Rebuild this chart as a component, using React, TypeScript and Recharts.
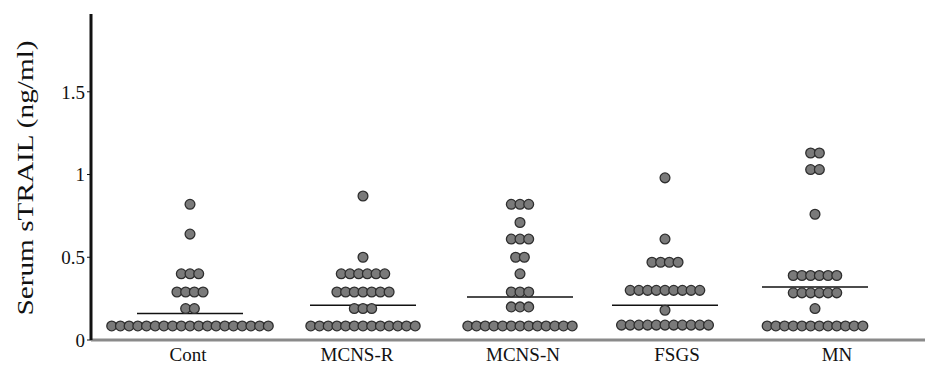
import React from 'react';
import { ReferenceLine, Scatter, ScatterChart, XAxis, YAxis } from 'recharts';

const groups = ['Cont', 'MCNS-R', 'MCNS-N', 'FSGS', 'MN'];
// column centre of each group and position of its label on the x scale
const groupCenters = [99, 272, 429, 574, 724];
const labelTicks = [97, 266, 432, 586, 746];

// serum sTRAIL (ng/ml), one value per patient
const cont = [
  0.085, 0.085, 0.085, 0.085, 0.085, 0.085, 0.085, 0.085, 0.085, 0.085,
  0.085, 0.085, 0.085, 0.085, 0.085, 0.085, 0.085, 0.085, 0.085,
  0.19, 0.19, 0.29, 0.29, 0.29, 0.29, 0.4, 0.4, 0.4, 0.64, 0.82,
];
const mcnsR = [
  0.085, 0.085, 0.085, 0.085, 0.085, 0.085, 0.085, 0.085, 0.085, 0.085,
  0.085, 0.085, 0.085, 0.19, 0.19, 0.19,
  0.29, 0.29, 0.29, 0.29, 0.29, 0.29, 0.29,
  0.4, 0.4, 0.4, 0.4, 0.4, 0.4, 0.5, 0.87,
];
const mcnsN = [
  0.085, 0.085, 0.085, 0.085, 0.085, 0.085, 0.085, 0.085, 0.085, 0.085,
  0.085, 0.085, 0.085, 0.2, 0.2, 0.2, 0.29, 0.29, 0.29, 0.4,
  0.5, 0.5, 0.61, 0.61, 0.61, 0.71, 0.82, 0.82, 0.82,
];
const fsgs = [
  0.09, 0.09, 0.09, 0.09, 0.09, 0.09, 0.09, 0.09, 0.09, 0.09, 0.09,
  0.18, 0.3, 0.3, 0.3, 0.3, 0.3, 0.3, 0.3, 0.3, 0.3,
  0.47, 0.47, 0.47, 0.47, 0.61, 0.98,
];
const mn = [
  0.085, 0.085, 0.085, 0.085, 0.085, 0.085, 0.085, 0.085, 0.085, 0.085,
  0.085, 0.085, 0.19, 0.285, 0.285, 0.285, 0.285, 0.285, 0.285,
  0.39, 0.39, 0.39, 0.39, 0.39, 0.39, 0.76, 1.03, 1.03, 1.13, 1.13,
];
const groupValues = [cont, mcnsR, mcnsN, fsgs, mn];
const means = [0.16, 0.21, 0.26, 0.21, 0.32];
const yTicks = [0, 0.5, 1, 1.5];

const DOT_STEP = 8.7;
const MEAN_HALF = 53;

// dot-plot layout: equal values share a row, spread evenly around the column centre
const layoutGroup = (values: number[], center: number) => {
  const rowSize = new Map<number, number>();
  values.forEach((v) => rowSize.set(v, (rowSize.get(v) ?? 0) + 1));
  const used = new Map<number, number>();
  return values.map((v) => {
    const n = rowSize.get(v)!;
    const i = used.get(v) ?? 0;
    used.set(v, i + 1);
    return { x: center + (i - (n - 1) / 2) * DOT_STEP, y: v };
  });
};

const points = groupValues.flatMap((vals, g) => layoutGroup(vals, groupCenters[g]));

const font = 'Liberation Serif';

const Dot = (props: any) => (
  <circle cx={props.cx} cy={props.cy} r={4.9} fill="#7a7a7a" stroke="#2e2e2e" strokeWidth={1.3} />
);

const XTick = (props: any) => (
  <g>
    <text
      x={props.x}
      y={props.y}
      dy="0.71em"
      textAnchor="middle"
      fontFamily={font}
      fontSize={19}
      fill="#111"
    >
      {groups[labelTicks.indexOf(props.payload.value)] ?? ''}
    </text>
  </g>
);

const YTick = (props: any) => (
  <g>
    <text
      x={props.x}
      y={props.y}
      dy="0.355em"
      textAnchor="end"
      fontFamily={font}
      fontSize={19}
      fill="#111"
    >
      {String(props.payload.value)}
    </text>
  </g>
);

const YLabel = () => (
  <text
    x={25}
    y={178}
    transform="rotate(-90 25 178)"
    textAnchor="middle"
    dominantBaseline="central"
    fontFamily={font}
    fontSize={24}
    fill="#111"
    textLength={275}
    lengthAdjust="spacingAndGlyphs"
  >
    Serum sTRAIL (ng/ml)
  </text>
);

export default function App() {
  return (
    <div style={{ position: 'absolute', left: 0, top: 0, background: '#fff', fontFamily: font }}>
      <ScatterChart width={925} height={372} margin={{ top: 14, right: 0, bottom: 0, left: 0 }}>
        <XAxis
          dataKey="x"
          type="number"
          domain={[0, 834]}
          ticks={labelTicks}
          interval={0}
          height={32}
          tickLine={false}
          axisLine={{ stroke: '#8a8a8a', strokeWidth: 3 }}
          tick={XTick}
        />
        <YAxis
          dataKey="y"
          type="number"
          domain={[0, 1.97]}
          allowDataOverflow
          ticks={yTicks}
          interval={0}
          width={91}
          tickSize={4}
          tickLine={{ stroke: '#111' }}
          axisLine={{ stroke: '#111', strokeWidth: 3 }}
          tick={YTick}
          label={{ content: YLabel }}
        />
        {means.map((m, g) => (
          <ReferenceLine
            key={groups[g]}
            segment={[
              { x: groupCenters[g] - MEAN_HALF, y: m },
              { x: groupCenters[g] + MEAN_HALF, y: m },
            ]}
            stroke="#111"
            strokeWidth={1.6}
          />
        ))}
        <Scatter data={points} shape={Dot} isAnimationActive={false} />
      </ScatterChart>
    </div>
  );
}
